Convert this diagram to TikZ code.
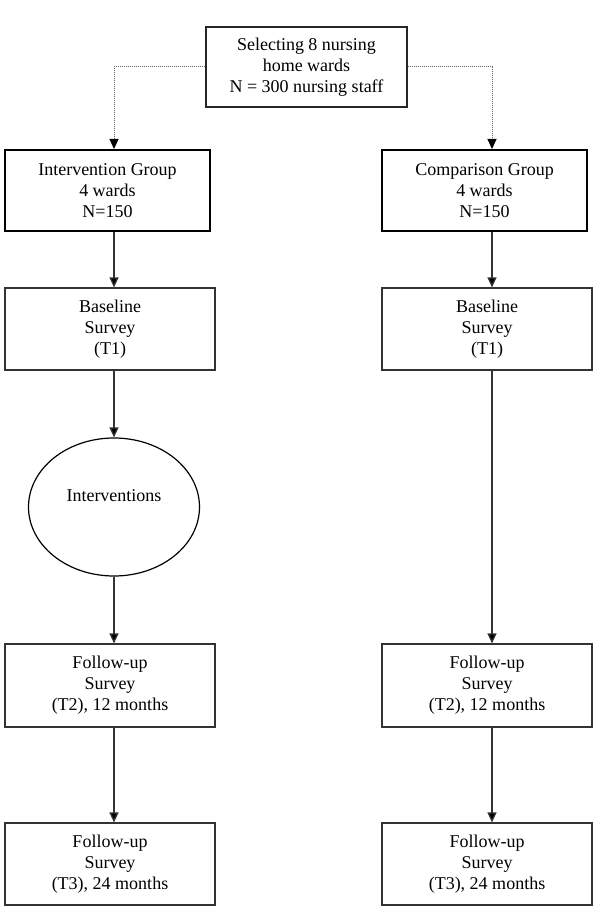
\documentclass[tikz,border=0pt]{standalone}
\usepackage{fontspec}
\setmainfont{Liberation Serif}
\usetikzlibrary{arrows.meta,shapes.geometric}
\begin{document}
\begin{tikzpicture}[x=1pt,y=-1pt,
  font=\fontsize{18}{21}\selectfont,
  boxthin/.style={draw=black!80,line width=1.2pt,rectangle,align=center,inner sep=0pt,
     minimum width=210pt,minimum height=82pt},
  boxthick/.style={draw=black,line width=2pt,rectangle,align=center,inner sep=0pt,
     minimum width=205pt,minimum height=81pt},
  arr/.style={draw=black!80,line width=1.3pt,-{Triangle[width=9pt,length=10pt,fill=black]}},
  dotarr/.style={draw=black!60,line width=1pt,dash pattern=on 1pt off 1pt,
     -{Triangle[width=9pt,length=10pt,fill=black,color=black]}}]
\useasboundingbox (0,0) rectangle (600,917);
\fill[white] (0,0) rectangle (600,917);
\coordinate (axl) at (114,0);
\coordinate (axr) at (492,0);
\node[draw=black!85,line width=1.3pt,align=center,inner sep=0pt,minimum width=201pt,minimum height=80pt] (top) at (306.5,67) {Selecting 8 nursing\\home wards\\N = 300 nursing staff};
\node[boxthick] (iv) at (107.5,190.5) {Intervention Group\\4 wards\\N=150};
\node[boxthick] (cp) at (484.5,190.5) {Comparison Group\\4 wards\\N=150};
\node[boxthin] (bl) at (110,329) {Baseline\\Survey\\(T1)};
\node[boxthin] (br) at (487,329) {Baseline\\Survey\\(T1)};
\node[draw=black,line width=1.2pt,ellipse,inner sep=0pt,minimum width=171pt,minimum height=138pt] (ell) at (114,507) {};
\node[inner sep=0pt] (ellt) at ([yshift=11pt]ell.center) {Interventions};
\node[boxthin,minimum height=83pt] (f2l) at (110,685.5) {Follow-up\\Survey\\(T2), 12 months};
\node[boxthin,minimum height=83pt] (f2r) at (487,685.5) {Follow-up\\Survey\\(T2), 12 months};
\node[boxthin] (f3l) at (110,864) {Follow-up\\Survey\\(T3), 24 months};
\node[boxthin] (f3r) at (487,864) {Follow-up\\Survey\\(T3), 24 months};
\draw[dotarr] (top.west) -| (iv.north -| axl);
\draw[dotarr] (top.east) -| (cp.north -| axr);
\draw[arr] (iv.south -| axl) -- (bl.north -| axl);
\draw[arr] (bl.south -| axl) -- (ell.north);
\draw[arr] (ell.south) -- (f2l.north -| axl);
\draw[arr] (f2l.south -| axl) -- (f3l.north -| axl);
\draw[arr] (cp.south -| axr) -- (br.north -| axr);
\draw[arr] (br.south -| axr) -- (f2r.north -| axr);
\draw[arr] (f2r.south -| axr) -- (f3r.north -| axr);
\end{tikzpicture}
\end{document}
